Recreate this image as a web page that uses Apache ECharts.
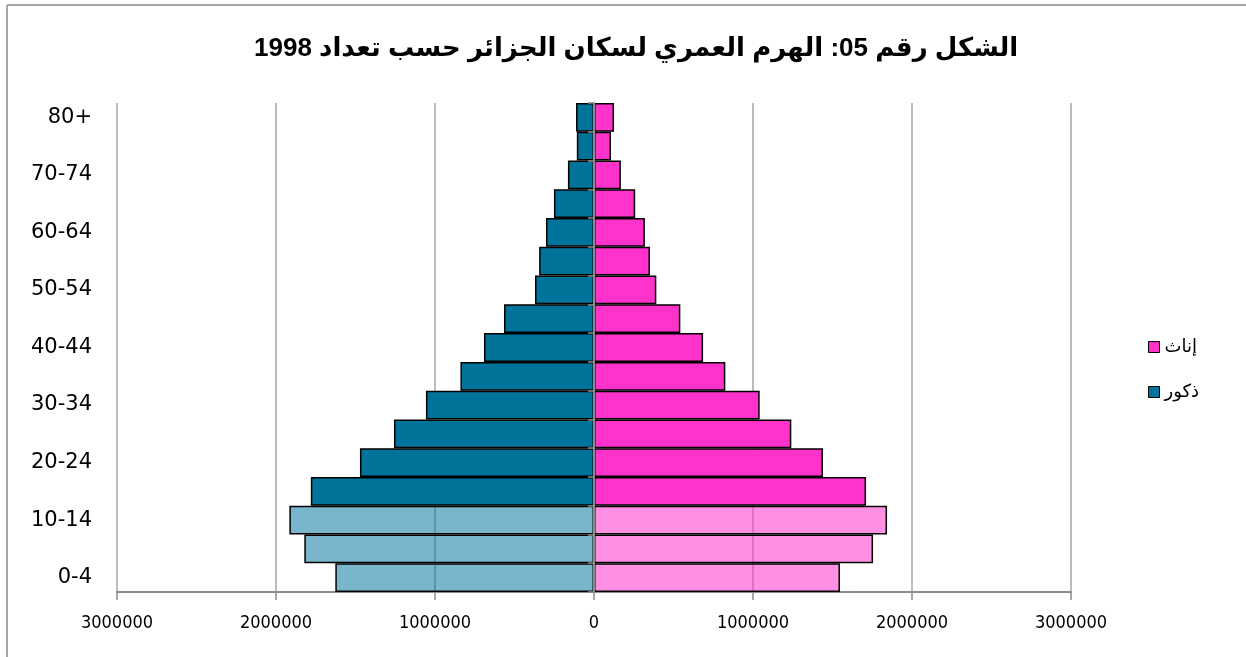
<!DOCTYPE html>
<html><head><meta charset="utf-8">
<script src="https://cdn.jsdelivr.net/npm/echarts@6/dist/echarts.min.js"></script>
<style>html,body{margin:0;padding:0;background:#fff}#c{width:1246px;height:657px}</style>
</head><body><div id="c"></div>
<script>
var categories = ['0-4','5-9','10-14','15-19','20-24','25-29','30-34','35-39','40-44','45-49','50-54','55-59','60-64','65-69','70-74','75-79','80+'];
var males   = [1627000,1822000,1916000,1781000,1472000,1258000,1057000,840000,692000,566000,371000,345000,302000,252000,164000,108000,113000];
var females = [1547000,1755000,1843000,1711000,1440000,1241000,1042000,826000,686000,543000,392000,352000,320000,259000,169000,107000,126000];
var xTicks = {min:-3000000, max:3000000, interval:1000000};
var seriesNames = ['إناث','ذكور'];
var titleText = 'الشكل رقم 05: الهرم العمري لسكان الجزائر حسب تعداد 1998';

var BLUE='#00739B', PINK='#FF33CC';
var BLUE_L='rgba(0,115,155,0.52)', PINK_L='rgba(255,51,204,0.55)';
var lightCount = 3;

var maleData = males.map(function(v,i){
  return {value:-v, itemStyle:{color: i<lightCount?BLUE_L:BLUE}};
});
var femaleData = females.map(function(v,i){
  return {value:v, itemStyle:{color: i<lightCount?PINK_L:PINK}};
});

var chart = echarts.init(document.getElementById('c'));
chart.setOption({
  backgroundColor:'#fff',
  animation:false,
  graphic:[
    {type:'line',shape:{x1:7,y1:5,x2:1246,y2:5},style:{stroke:'#A6A6A6',lineWidth:2},z:-10},
    {type:'line',shape:{x1:7,y1:5,x2:7,y2:657},style:{stroke:'#A6A6A6',lineWidth:2},z:-10}
  ],
  title:{text:titleText,left:249,top:31,
    textStyle:{fontFamily:"'Liberation Sans','DejaVu Sans',sans-serif",fontWeight:'bold',fontSize:26,color:'#000'}},
  legend:{orient:'vertical',left:1143,top:333,itemGap:27,itemWidth:11,itemHeight:11,
    icon:'rect',
    textStyle:{fontFamily:"'DejaVu Sans',sans-serif",fontSize:18,color:'#000'},
    itemStyle:{borderColor:'#000',borderWidth:1},
    data:[{name:seriesNames[0],itemStyle:{color:PINK}},{name:seriesNames[1],itemStyle:{color:BLUE}}]},
  grid:{left:117,right:175,top:103,bottom:65,containLabel:false},
  xAxis:{type:'value',min:xTicks.min,max:xTicks.max,interval:xTicks.interval,
    axisLine:{show:true,onZero:false,lineStyle:{color:'#8C8C8C',width:2}},
    axisTick:{show:true,length:8,lineStyle:{color:'#8C8C8C',width:1.5}},
    splitLine:{show:true,lineStyle:{color:'#A6A6A6',width:1.5}},
    axisLabel:{margin:22,fontFamily:"'Liberation Sans Narrow','DejaVu Sans Condensed','Liberation Sans',sans-serif",fontSize:18,color:'#000',
      formatter:function(v){return String(Math.abs(v));}}},
  yAxis:[
    {type:'category',data:categories,position:'left',
      axisLine:{show:false,onZero:false},axisTick:{show:false},
      axisLabel:{interval:1,margin:25,fontFamily:"'DejaVu Sans',sans-serif",fontSize:21,color:'#000'}},
    {type:'category',data:categories,position:'left',z:10,
      axisLine:{show:true,onZero:true,lineStyle:{color:'#8C8C8C',width:2}},
      axisTick:{show:true,interval:0,length:6,lineStyle:{color:'#8C8C8C',width:1.5}},
      axisLabel:{show:false}}
  ],
  series:[
    {name:seriesNames[1],type:'bar',yAxisIndex:0,data:maleData,barGap:'-100%',barCategoryGap:'0%',
      itemStyle:{color:BLUE,borderColor:'#000',borderWidth:1.5}},
    {name:seriesNames[0],type:'bar',yAxisIndex:0,data:femaleData,barGap:'-100%',barCategoryGap:'0%',
      itemStyle:{color:PINK,borderColor:'#000',borderWidth:1.5}}
  ]
});
</script></body></html>
